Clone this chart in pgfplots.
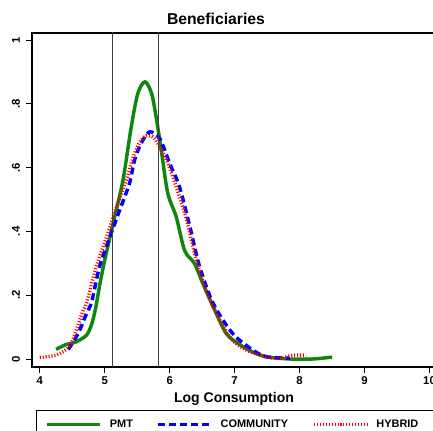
\documentclass[border=0pt]{standalone}
\usepackage{fontspec}
\setmainfont{Liberation Sans}
\usepackage{pgfplots}
\pgfplotsset{compat=1.18}
\definecolor{pmt}{HTML}{0E870E}
\definecolor{comm}{HTML}{0000FF}
\definecolor{hyb}{HTML}{FF0000}

\begin{document}
\begin{tikzpicture}[x=1pt,y=1pt]
\begin{axis}[
  at={(24pt,48pt)},anchor=south west,
  scale only axis,width=303pt,height=250.5pt,
  xmin=3.88,xmax=10.1,ymin=-0.025,ymax=1.022,
  axis line style={line width=0.8pt},
  xtick={4,5,...,10},ytick={0,0.2,0.4,0.6,0.8,1},
  yticklabels={0,.2,.4,.6,.8,1},
  /pgf/number format/assume math mode=true,
  tick align=outside,tick pos=left,major tick length=4.5pt,
  every tick/.style={black,line width=0.6pt},
  tick label style={font=\bfseries\fontsize{8.5}{10}\selectfont},
  yticklabel style={rotate=90,anchor=south,yshift=1pt},
  xticklabel style={yshift=1pt},
  xlabel={Log Consumption},
  xlabel style={font=\bfseries\fontsize{10.5}{12}\selectfont,yshift=1pt},
  legend columns=3,
  legend style={at={(0.0099,-0.1287)},anchor=north west,draw=black,line width=0.6pt,
    font=\bfseries\fontsize{8.2}{9}\selectfont,inner xsep=7pt,inner ysep=5pt,
    /tikz/every odd column/.append style={column sep=3.75pt},
    /tikz/every even column/.append style={column sep=15pt}},
  legend image code/.code={\draw[#1] (0pt,0pt) -- (39.75pt,0pt);},
  clip=true]
\addplot[pmt,line width=2.6pt,smooth] coordinates {
 (4.25,0.03) (4.40,0.045) (4.56,0.054) (4.72,0.075) (4.80,0.11) (4.86,0.16)
 (4.93,0.24) (5.00,0.31) (5.13,0.426) (5.28,0.56) (5.41,0.73) (5.51,0.833)
 (5.62,0.869) (5.72,0.833) (5.79,0.76) (5.87,0.655) (5.97,0.52) (6.10,0.446)
 (6.23,0.34) (6.38,0.30) (6.51,0.237) (6.67,0.164) (6.87,0.08) (7.08,0.045)
 (7.28,0.022) (7.49,0.007) (7.85,0.0) (8.2,0.0) (8.46,0.005) (8.5,0.005)};
\addlegendentry{\makebox[18pt][l]{PMT}}
\addplot[comm,line width=2.6pt,dash pattern=on 5.25pt off 3pt,smooth] coordinates {
 (4.44,0.03) (4.59,0.08) (4.72,0.143) (4.80,0.18) (4.92,0.29) (5.08,0.383)
 (5.23,0.467) (5.38,0.55) (5.46,0.624) (5.56,0.676) (5.69,0.712) (5.85,0.69)
 (6.00,0.613) (6.15,0.54) (6.31,0.415) (6.46,0.29) (6.67,0.174) (6.97,0.08)
 (7.28,0.028) (7.49,0.007) (7.8,0.003) (7.85,0.003)};
\addlegendentry{\makebox[51.75pt][l]{COMMUNITY}}
\addplot[hyb,line width=2.6pt,dash pattern=on 0.8pt off 1.4pt,smooth] coordinates {
 (4.0,0.005) (4.26,0.013) (4.46,0.04) (4.56,0.09) (4.67,0.154) (4.72,0.175)
 (4.87,0.29) (5.03,0.383) (5.18,0.477) (5.33,0.56) (5.44,0.634) (5.54,0.68)
 (5.64,0.70) (5.77,0.69) (5.95,0.624) (6.10,0.54) (6.26,0.436) (6.41,0.31)
 (6.62,0.185) (6.92,0.07) (7.18,0.028) (7.49,0.007) (7.69,0.002) (7.9,0.012)
 (8.1,0.012)};
\addlegendentry{\makebox[36pt][l]{HYBRID}}
\addplot[black!75,line width=0.6pt,forget plot] coordinates {(5.12,-0.1) (5.12,1.1)};
\addplot[black!75,line width=0.6pt,forget plot] coordinates {(5.82,-0.1) (5.82,1.1)};
\end{axis}
\node[font=\bfseries\fontsize{11.8}{14}\selectfont] at (162pt,309pt) {Beneficiaries};
\pgfresetboundingbox
\path[use as bounding box] (0,0) rectangle (324.75pt,323.25pt);
\end{tikzpicture}
\end{document}
